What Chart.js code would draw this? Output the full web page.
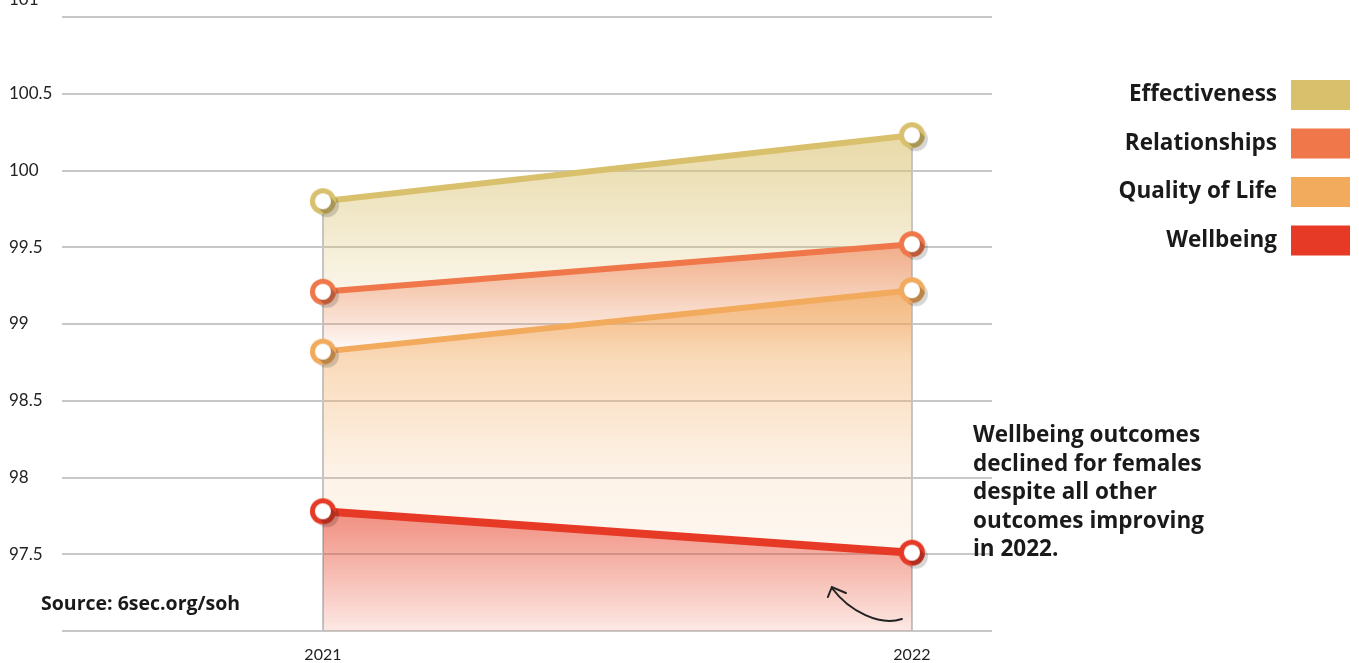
<!DOCTYPE html>
<html>
<head>
<meta charset="utf-8">
<script src="https://cdn.jsdelivr.net/npm/chart.js@4.4.1/dist/chart.umd.min.js"></script>
<style>
  html, body { margin: 0; padding: 0; background: #ffffff; }
  #wrap { position: relative; width: 1359px; height: 663px; overflow: hidden; }
</style>
</head>
<body>
<div id="wrap"><canvas id="chart" width="1359" height="663"></canvas></div>
<script>
// ---- data ----
const years = [2021, 2022];
const seriesNames = ['Effectiveness', 'Relationships', 'Quality of Life', 'Wellbeing'];
const effectiveness = [99.8, 100.23];
const relationships = [99.21, 99.52];
const qualityOfLife = [98.82, 99.22];
const wellbeing = [97.78, 97.51];
const yTickValues = [97, 97.5, 98, 98.5, 99, 99.5, 100, 100.5, 101];
const noteLines = ['Wellbeing outcomes', 'declined for females', 'despite all other', 'outcomes improving', 'in 2022.'];
const sourceText = 'Source: 6sec.org/soh';

// ---- styles ----
const seriesColors = ['#D9C06C', '#EF7749', '#F2AA5C', '#E63A27'];
const TICK_FONT = 'Lato';
const BOLD_FONT = '"Open Sans"';

function rgba(hex, a) {
  const n = parseInt(hex.slice(1), 16);
  return `rgba(${(n >> 16) & 255},${(n >> 8) & 255},${n & 255},${a})`;
}

// Ring marker with a soft long shadow toward the lower right
function ringMarker(color) {
  const R = 13, r = 8, d = 4, size = 2 * (R + d + 2);
  const c = document.createElement('canvas');
  c.width = c.height = size;
  const g = c.getContext('2d');
  const cx = size / 2, cy = size / 2;
  g.lineCap = 'round';
  g.strokeStyle = 'rgba(0,0,0,0.16)';
  g.lineWidth = 2 * R - 2;
  g.beginPath(); g.moveTo(cx, cy); g.lineTo(cx + d, cy + d); g.stroke();
  g.fillStyle = color;
  g.beginPath(); g.arc(cx, cy, R, 0, Math.PI * 2); g.fill();
  g.save();
  g.beginPath(); g.arc(cx, cy, R, 0, Math.PI * 2); g.clip();
  g.strokeStyle = 'rgba(0,0,0,0.22)';
  g.lineWidth = 2 * r;
  g.beginPath(); g.moveTo(cx, cy); g.lineTo(cx + d + 2, cy + d + 2); g.stroke();
  g.restore();
  g.fillStyle = '#ffffff';
  g.beginPath(); g.arc(cx, cy, r, 0, Math.PI * 2); g.fill();
  return c;
}

// Vertical fade below each line, anchored at the series' highest point
function fadeFill(color, stops) {
  return (context) => {
    const chart = context.chart;
    const area = chart.chartArea;
    if (!area) return rgba(color, stops[0][1]);
    const ds = chart.data.datasets[context.datasetIndex];
    const top = chart.scales.y.getPixelForValue(Math.max(...ds.data.map(p => p.y)));
    const grad = chart.ctx.createLinearGradient(0, top, 0, area.bottom);
    stops.forEach(([pos, a]) => grad.addColorStop(pos, rgba(color, a)));
    return grad;
  };
}

const seriesValues = [effectiveness, relationships, qualityOfLife, wellbeing];
const fadeStops = [
  [[0, 0.6], [0.42, 0.0], [1, 0.0]],
  [[0, 0.55], [0.30, 0.0], [1, 0.0]],
  [[0, 0.6], [0.53, 0.15], [1, 0.03]],
  [[0, 0.55], [1, 0.1]]
];
const lineWidths = [6, 6, 6, 8];

const datasets = seriesNames.map((name, i) => ({
  label: name,
  order: seriesNames.length - i,
  data: years.map((yr, k) => ({ x: yr, y: seriesValues[i][k] })),
  borderColor: seriesColors[i],
  borderWidth: lineWidths[i],
  backgroundColor: fadeFill(seriesColors[i], fadeStops[i]),
  fill: 'start',
  tension: 0,
  clip: false,
  pointStyle: ringMarker(seriesColors[i]),
  pointRadius: 1,
  pointBorderWidth: 0,
  pointHoverRadius: 1
}));

// Grey guide from the highest point of each year down to the baseline
const yearGuides = {
  id: 'yearGuides',
  beforeDatasetsDraw(chart) {
    const { ctx, scales: { x, y }, chartArea } = chart;
    ctx.save();
    ctx.strokeStyle = '#c6c6c6';
    ctx.lineWidth = 2;
    years.forEach((yr, k) => {
      const top = Math.max(...chart.data.datasets.map(d => d.data[k].y));
      const px = Math.round(x.getPixelForValue(yr));
      ctx.beginPath();
      ctx.moveTo(px, y.getPixelForValue(top));
      ctx.lineTo(px, chartArea.bottom);
      ctx.stroke();
    });
    ctx.restore();
  }
};

// Legend, note, source line and pointer arrow
const decorations = {
  id: 'decorations',
  afterDraw(chart) {
    const { ctx, scales: { x }, chartArea } = chart;
    ctx.save();
    // legend: labels right-aligned, swatches on the right
    const boxX = 1291, boxW = 59, boxH = 30, firstTop = 80, step = 48.5;
    ctx.font = `700 22.5px ${BOLD_FONT}`;
    ctx.textAlign = 'right';
    ctx.textBaseline = 'middle';
    chart.data.datasets.forEach((ds, i) => {
      const top = firstTop + i * step;
      ctx.fillStyle = seriesColors[i];
      ctx.fillRect(boxX, top, boxW, boxH);
      ctx.fillStyle = '#1a1a1a';
      ctx.fillText(ds.label, boxX - 14, top + boxH / 2);
    });
    // note
    ctx.textAlign = 'left';
    ctx.font = `700 22.5px ${BOLD_FONT}`;
    noteLines.forEach((line, i) => ctx.fillText(line, chartArea.right - 19, 436 + i * 28.4));
    // source
    ctx.font = `700 19.5px ${BOLD_FONT}`;
    ctx.fillText(sourceText, 41, 604);
    // arrow
    const ax = x.getPixelForValue(years[1]);
    const ab = chartArea.bottom;
    ctx.strokeStyle = '#222';
    ctx.lineWidth = 2;
    ctx.lineCap = 'round';
    ctx.beginPath();
    ctx.moveTo(ax - 10, ab - 12);
    ctx.bezierCurveTo(ax - 32, ab - 5, ax - 62, ab - 19, ax - 80, ab - 43);
    ctx.stroke();
    ctx.beginPath();
    ctx.moveTo(ax - 84, ab - 34);
    ctx.lineTo(ax - 80, ab - 44);
    ctx.lineTo(ax - 66, ab - 38);
    ctx.stroke();
    ctx.restore();
  }
};

new Chart(document.getElementById('chart'), {
  type: 'line',
  data: { datasets },
  options: {
    responsive: false,
    animation: false,
    devicePixelRatio: 1,
    layout: { padding: { left: 9, top: 17, right: 367, bottom: 0 } },
    plugins: { legend: { display: false }, tooltip: { enabled: false } },
    scales: {
      x: {
        type: 'linear',
        min: 2020.557,
        max: 2022.136,
        grid: { display: false },
        border: { display: false },
        afterBuildTicks(scale) { scale.ticks = years.map(v => ({ value: v })); },
        afterFit(scale) { scale.height = 32; scale.paddingLeft = 0; scale.paddingRight = 0; },
        ticks: {
          padding: 6,
          color: '#222',
          font: { family: TICK_FONT, size: 16 },
          callback: (v) => String(v)
        }
      },
      y: {
        min: yTickValues[0],
        max: yTickValues[yTickValues.length - 1],
        afterBuildTicks(scale) { scale.ticks = yTickValues.map(v => ({ value: v })); },
        afterFit(scale) { scale.width = 53; scale.paddingTop = 0; scale.paddingBottom = 0; },
        grid: { color: '#c8c8c8', lineWidth: 2, drawTicks: false },
        border: { display: false },
        ticks: {
          padding: 0,
          crossAlign: 'far',
          color: '#222',
          font: { family: TICK_FONT, size: 17, lineHeight: 1 },
          callback: (v) => {
            if (v === yTickValues[0]) return '';
            if (v === yTickValues[yTickValues.length - 1]) return [String(v), '', ''];
            return String(v);
          }
        }
      }
    }
  },
  plugins: [yearGuides, decorations]
});
</script>
</body>
</html>
